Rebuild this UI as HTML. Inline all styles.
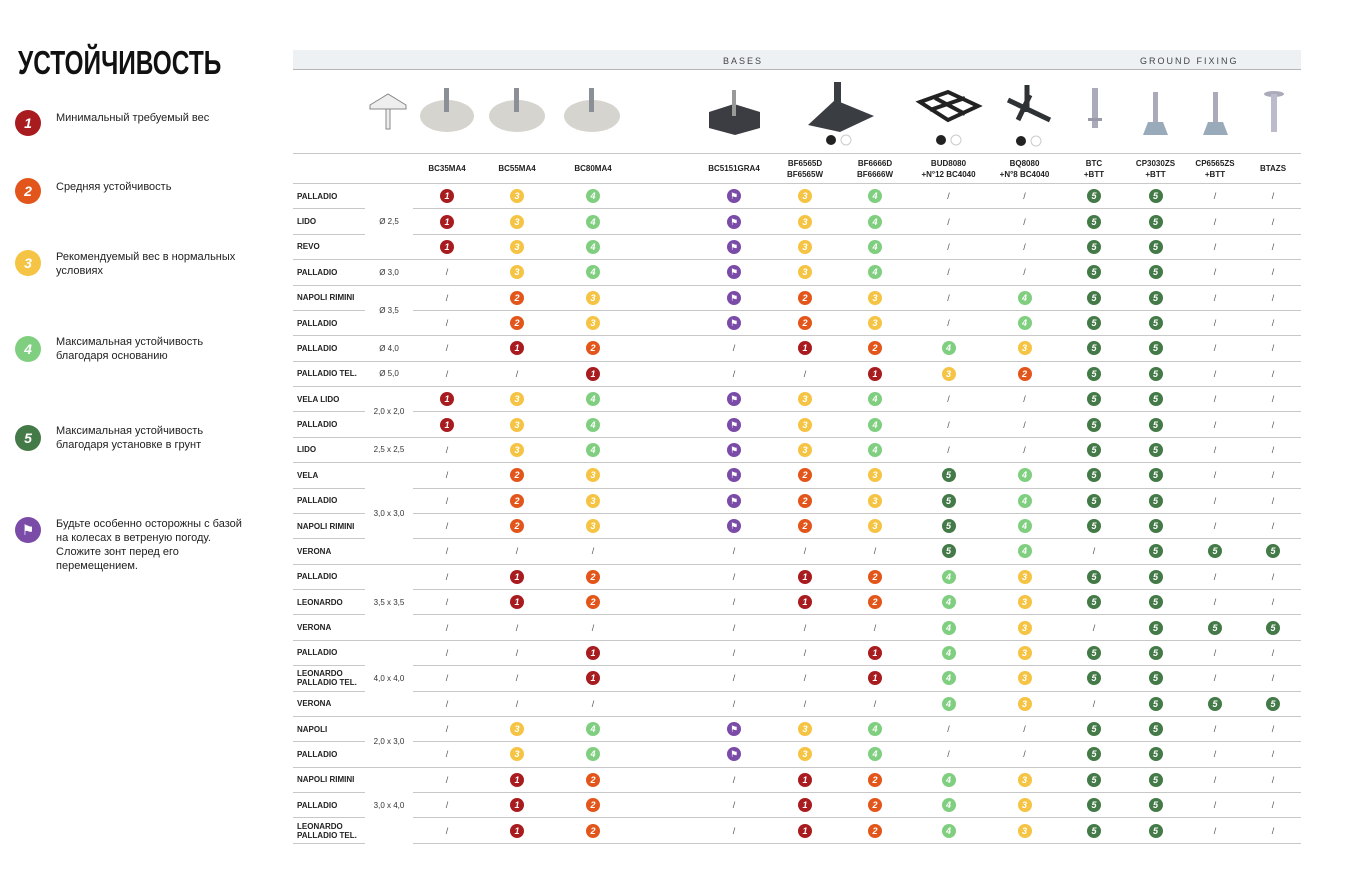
<!DOCTYPE html>
<html><head><meta charset="utf-8"><style>
*{margin:0;padding:0;box-sizing:border-box}
body{width:1350px;height:875px;background:#fff;position:relative;font-family:"Liberation Sans","DejaVu Sans",sans-serif;color:#111;overflow:hidden}
h1{position:absolute;left:18px;top:44px;font-size:33px;font-weight:bold;transform:scaleX(0.74);transform-origin:0 0;letter-spacing:0;white-space:nowrap}
.lg{position:absolute;left:15px;width:26px;height:26px;border-radius:50%;color:#fff;font-weight:bold;font-style:italic;font-size:14px;text-align:center;line-height:26px}
.lt{position:absolute;left:56px;font-size:11px;line-height:14px;color:#222;width:190px}
.band{position:absolute;left:293px;top:50px;width:1008px;height:20px;background:#eef1f4;border-bottom:1px solid #b5b5b5}
.band span{position:absolute;top:6px;font-size:9px;letter-spacing:2px;color:#444}
table{position:absolute;left:293px;top:153px;border-collapse:collapse;table-layout:fixed;width:1008px}
td{border-top:1px solid #c8c8c8;text-align:center;vertical-align:middle;height:25.38px;font-size:9px;color:#555;padding:0}
tr.h td{height:30px;font-size:8px;font-weight:bold;color:#222;line-height:11px}
td.n{text-align:left;padding-left:4px;font-size:8px;font-weight:bold;color:#222;line-height:9px}
td.s{font-size:8px;color:#333}
table tr:last-child td{border-bottom:1px solid #c8c8c8}
i{display:inline-block;width:14px;height:14px;border-radius:50%;color:#fff;font-weight:bold;font-size:9px;line-height:14px;vertical-align:middle}
.c1{background:#a81c1f}.c2{background:#e2561b}.c3{background:#f6c444}.c4{background:#80cf80}.c5{background:#437a47}.cw{background:#7b4ba8}
</style></head><body>
<h1>УСТОЙЧИВОСТЬ</h1>
<div class="lg c1" style="top:110px">1</div><div class="lt" style="top:111px">Минимальный требуемый вес</div>
<div class="lg c2" style="top:178px">2</div><div class="lt" style="top:180px">Средняя устойчивость</div>
<div class="lg c3" style="top:250px">3</div><div class="lt" style="top:250px">Рекомендуемый вес в нормальных условиях</div>
<div class="lg c4" style="top:336px">4</div><div class="lt" style="top:335px">Максимальная устойчивость благодаря основанию</div>
<div class="lg c5" style="top:425px">5</div><div class="lt" style="top:424px">Максимальная устойчивость благодаря установке в грунт</div>
<div class="lg cw" style="top:517px">&#9873;</div><div class="lt" style="top:517px">Будьте особенно осторожны с базой на колесах в ветреную погоду. Сложите зонт перед его перемещением.</div>
<div class="band"><span style="left:430px">BASES</span><span style="left:847px">GROUND FIXING</span></div>
<svg style="position:absolute;left:0;top:70px" width="1350" height="83">
<g fill="#eee" stroke="#888"><path d="M370 35 L388 24 L406 35 L406 39 L370 39Z"/><rect x="386" y="39" width="4" height="20"/></g>
<g><ellipse cx="447" cy="46" rx="27" ry="16" fill="#d6d4cf"/><rect x="444" y="18" width="5" height="24" fill="#8b9096"/>
<ellipse cx="517" cy="46" rx="28" ry="16" fill="#d6d4cf"/><rect x="514" y="18" width="5" height="24" fill="#8b9096"/>
<ellipse cx="592" cy="46" rx="28" ry="16" fill="#d6d4cf"/><rect x="589" y="18" width="5" height="24" fill="#8b9096"/></g>
<g><path d="M709 42 L734 34 L760 42 L760 58 L735 65 L709 58Z" fill="#3b3d42"/><rect x="732" y="20" width="4" height="26" fill="#999"/>
<path d="M808 55 L835 30 L874 46 L840 62Z" fill="#3a3d42"/><rect x="834" y="12" width="7" height="38" fill="#3a3d42"/>
<circle cx="831" cy="70" r="5" fill="#222"/><circle cx="846" cy="70" r="5" fill="#fff" stroke="#ccc"/>
<path d="M920 32 L948 22 L978 36 L948 50Z" fill="none" stroke="#222" stroke-width="4"/><path d="M930 40 L965 28 M935 28 L965 44" stroke="#222" stroke-width="4"/>
<circle cx="941" cy="70" r="5" fill="#222"/><circle cx="956" cy="70" r="5" fill="#fff" stroke="#ccc"/>
<path d="M1008 30 L1050 50 M1030 25 L1018 50 M1027 15 L1027 42" stroke="#2e3235" stroke-width="5"/>
<circle cx="1021" cy="71" r="5" fill="#222"/><circle cx="1036" cy="71" r="5" fill="#fff" stroke="#ccc"/>
<rect x="1092" y="18" width="6" height="40" fill="#aab"/><rect x="1088" y="48" width="14" height="3" fill="#99a"/>
<rect x="1153" y="22" width="5" height="30" fill="#aab"/><path d="M1143 65 L1148 52 L1163 52 L1168 65Z" fill="#9ab"/>
<rect x="1213" y="22" width="5" height="30" fill="#aab"/><path d="M1203 65 L1208 52 L1223 52 L1228 65Z" fill="#9ab"/>
<ellipse cx="1274" cy="24" rx="10" ry="3" fill="#aab"/><rect x="1271" y="24" width="6" height="38" fill="#bbc"/></g>
</svg>
<table>
<colgroup><col style="width:72px"><col style="width:48px"><col style="width:68px"><col style="width:72px"><col style="width:80px"><col style="width:65px"><col style="width:72px"><col style="width:70px"><col style="width:70px"><col style="width:77px"><col style="width:75px"><col style="width:64px"><col style="width:59px"><col style="width:60px"><col style="width:56px"></colgroup>
<tr class="h"><td></td><td></td><td>BC35MA4</td><td>BC55MA4</td><td>BC80MA4</td><td></td><td>BC5151GRA4</td><td>BF6565D<br>BF6565W</td><td>BF6666D<br>BF6666W</td><td>BUD8080<br>+N°12 BC4040</td><td>BQ8080<br>+N°8 BC4040</td><td>BTC<br>+BTT</td><td>CP3030ZS<br>+BTT</td><td>CP6565ZS<br>+BTT</td><td>BTAZS</td></tr>
<tr><td class="n">PALLADIO</td><td class="s" rowspan="3">Ø 2,5</td><td><i class="c1">1</i></td><td><i class="c3">3</i></td><td><i class="c4">4</i></td><td></td><td><i class="cw">&#9873;</i></td><td><i class="c3">3</i></td><td><i class="c4">4</i></td><td>/</td><td>/</td><td><i class="c5">5</i></td><td><i class="c5">5</i></td><td>/</td><td>/</td></tr>
<tr><td class="n">LIDO</td><td><i class="c1">1</i></td><td><i class="c3">3</i></td><td><i class="c4">4</i></td><td></td><td><i class="cw">&#9873;</i></td><td><i class="c3">3</i></td><td><i class="c4">4</i></td><td>/</td><td>/</td><td><i class="c5">5</i></td><td><i class="c5">5</i></td><td>/</td><td>/</td></tr>
<tr><td class="n">REVO</td><td><i class="c1">1</i></td><td><i class="c3">3</i></td><td><i class="c4">4</i></td><td></td><td><i class="cw">&#9873;</i></td><td><i class="c3">3</i></td><td><i class="c4">4</i></td><td>/</td><td>/</td><td><i class="c5">5</i></td><td><i class="c5">5</i></td><td>/</td><td>/</td></tr>
<tr><td class="n">PALLADIO</td><td class="s">Ø 3,0</td><td>/</td><td><i class="c3">3</i></td><td><i class="c4">4</i></td><td></td><td><i class="cw">&#9873;</i></td><td><i class="c3">3</i></td><td><i class="c4">4</i></td><td>/</td><td>/</td><td><i class="c5">5</i></td><td><i class="c5">5</i></td><td>/</td><td>/</td></tr>
<tr><td class="n">NAPOLI RIMINI</td><td class="s" rowspan="2">Ø 3,5</td><td>/</td><td><i class="c2">2</i></td><td><i class="c3">3</i></td><td></td><td><i class="cw">&#9873;</i></td><td><i class="c2">2</i></td><td><i class="c3">3</i></td><td>/</td><td><i class="c4">4</i></td><td><i class="c5">5</i></td><td><i class="c5">5</i></td><td>/</td><td>/</td></tr>
<tr><td class="n">PALLADIO</td><td>/</td><td><i class="c2">2</i></td><td><i class="c3">3</i></td><td></td><td><i class="cw">&#9873;</i></td><td><i class="c2">2</i></td><td><i class="c3">3</i></td><td>/</td><td><i class="c4">4</i></td><td><i class="c5">5</i></td><td><i class="c5">5</i></td><td>/</td><td>/</td></tr>
<tr><td class="n">PALLADIO</td><td class="s">Ø 4,0</td><td>/</td><td><i class="c1">1</i></td><td><i class="c2">2</i></td><td></td><td>/</td><td><i class="c1">1</i></td><td><i class="c2">2</i></td><td><i class="c4">4</i></td><td><i class="c3">3</i></td><td><i class="c5">5</i></td><td><i class="c5">5</i></td><td>/</td><td>/</td></tr>
<tr><td class="n">PALLADIO TEL.</td><td class="s">Ø 5,0</td><td>/</td><td>/</td><td><i class="c1">1</i></td><td></td><td>/</td><td>/</td><td><i class="c1">1</i></td><td><i class="c3">3</i></td><td><i class="c2">2</i></td><td><i class="c5">5</i></td><td><i class="c5">5</i></td><td>/</td><td>/</td></tr>
<tr><td class="n">VELA LIDO</td><td class="s" rowspan="2">2,0 x 2,0</td><td><i class="c1">1</i></td><td><i class="c3">3</i></td><td><i class="c4">4</i></td><td></td><td><i class="cw">&#9873;</i></td><td><i class="c3">3</i></td><td><i class="c4">4</i></td><td>/</td><td>/</td><td><i class="c5">5</i></td><td><i class="c5">5</i></td><td>/</td><td>/</td></tr>
<tr><td class="n">PALLADIO</td><td><i class="c1">1</i></td><td><i class="c3">3</i></td><td><i class="c4">4</i></td><td></td><td><i class="cw">&#9873;</i></td><td><i class="c3">3</i></td><td><i class="c4">4</i></td><td>/</td><td>/</td><td><i class="c5">5</i></td><td><i class="c5">5</i></td><td>/</td><td>/</td></tr>
<tr><td class="n">LIDO</td><td class="s">2,5 x 2,5</td><td>/</td><td><i class="c3">3</i></td><td><i class="c4">4</i></td><td></td><td><i class="cw">&#9873;</i></td><td><i class="c3">3</i></td><td><i class="c4">4</i></td><td>/</td><td>/</td><td><i class="c5">5</i></td><td><i class="c5">5</i></td><td>/</td><td>/</td></tr>
<tr><td class="n">VELA</td><td class="s" rowspan="4">3,0 x 3,0</td><td>/</td><td><i class="c2">2</i></td><td><i class="c3">3</i></td><td></td><td><i class="cw">&#9873;</i></td><td><i class="c2">2</i></td><td><i class="c3">3</i></td><td><i class="c5">5</i></td><td><i class="c4">4</i></td><td><i class="c5">5</i></td><td><i class="c5">5</i></td><td>/</td><td>/</td></tr>
<tr><td class="n">PALLADIO</td><td>/</td><td><i class="c2">2</i></td><td><i class="c3">3</i></td><td></td><td><i class="cw">&#9873;</i></td><td><i class="c2">2</i></td><td><i class="c3">3</i></td><td><i class="c5">5</i></td><td><i class="c4">4</i></td><td><i class="c5">5</i></td><td><i class="c5">5</i></td><td>/</td><td>/</td></tr>
<tr><td class="n">NAPOLI RIMINI</td><td>/</td><td><i class="c2">2</i></td><td><i class="c3">3</i></td><td></td><td><i class="cw">&#9873;</i></td><td><i class="c2">2</i></td><td><i class="c3">3</i></td><td><i class="c5">5</i></td><td><i class="c4">4</i></td><td><i class="c5">5</i></td><td><i class="c5">5</i></td><td>/</td><td>/</td></tr>
<tr><td class="n">VERONA</td><td>/</td><td>/</td><td>/</td><td></td><td>/</td><td>/</td><td>/</td><td><i class="c5">5</i></td><td><i class="c4">4</i></td><td>/</td><td><i class="c5">5</i></td><td><i class="c5">5</i></td><td><i class="c5">5</i></td></tr>
<tr><td class="n">PALLADIO</td><td class="s" rowspan="3">3,5 x 3,5</td><td>/</td><td><i class="c1">1</i></td><td><i class="c2">2</i></td><td></td><td>/</td><td><i class="c1">1</i></td><td><i class="c2">2</i></td><td><i class="c4">4</i></td><td><i class="c3">3</i></td><td><i class="c5">5</i></td><td><i class="c5">5</i></td><td>/</td><td>/</td></tr>
<tr><td class="n">LEONARDO</td><td>/</td><td><i class="c1">1</i></td><td><i class="c2">2</i></td><td></td><td>/</td><td><i class="c1">1</i></td><td><i class="c2">2</i></td><td><i class="c4">4</i></td><td><i class="c3">3</i></td><td><i class="c5">5</i></td><td><i class="c5">5</i></td><td>/</td><td>/</td></tr>
<tr><td class="n">VERONA</td><td>/</td><td>/</td><td>/</td><td></td><td>/</td><td>/</td><td>/</td><td><i class="c4">4</i></td><td><i class="c3">3</i></td><td>/</td><td><i class="c5">5</i></td><td><i class="c5">5</i></td><td><i class="c5">5</i></td></tr>
<tr><td class="n">PALLADIO</td><td class="s" rowspan="3">4,0 x 4,0</td><td>/</td><td>/</td><td><i class="c1">1</i></td><td></td><td>/</td><td>/</td><td><i class="c1">1</i></td><td><i class="c4">4</i></td><td><i class="c3">3</i></td><td><i class="c5">5</i></td><td><i class="c5">5</i></td><td>/</td><td>/</td></tr>
<tr><td class="n">LEONARDO<br>PALLADIO TEL.</td><td>/</td><td>/</td><td><i class="c1">1</i></td><td></td><td>/</td><td>/</td><td><i class="c1">1</i></td><td><i class="c4">4</i></td><td><i class="c3">3</i></td><td><i class="c5">5</i></td><td><i class="c5">5</i></td><td>/</td><td>/</td></tr>
<tr><td class="n">VERONA</td><td>/</td><td>/</td><td>/</td><td></td><td>/</td><td>/</td><td>/</td><td><i class="c4">4</i></td><td><i class="c3">3</i></td><td>/</td><td><i class="c5">5</i></td><td><i class="c5">5</i></td><td><i class="c5">5</i></td></tr>
<tr><td class="n">NAPOLI</td><td class="s" rowspan="2">2,0 x 3,0</td><td>/</td><td><i class="c3">3</i></td><td><i class="c4">4</i></td><td></td><td><i class="cw">&#9873;</i></td><td><i class="c3">3</i></td><td><i class="c4">4</i></td><td>/</td><td>/</td><td><i class="c5">5</i></td><td><i class="c5">5</i></td><td>/</td><td>/</td></tr>
<tr><td class="n">PALLADIO</td><td>/</td><td><i class="c3">3</i></td><td><i class="c4">4</i></td><td></td><td><i class="cw">&#9873;</i></td><td><i class="c3">3</i></td><td><i class="c4">4</i></td><td>/</td><td>/</td><td><i class="c5">5</i></td><td><i class="c5">5</i></td><td>/</td><td>/</td></tr>
<tr><td class="n">NAPOLI RIMINI</td><td class="s" rowspan="3">3,0 x 4,0</td><td>/</td><td><i class="c1">1</i></td><td><i class="c2">2</i></td><td></td><td>/</td><td><i class="c1">1</i></td><td><i class="c2">2</i></td><td><i class="c4">4</i></td><td><i class="c3">3</i></td><td><i class="c5">5</i></td><td><i class="c5">5</i></td><td>/</td><td>/</td></tr>
<tr><td class="n">PALLADIO</td><td>/</td><td><i class="c1">1</i></td><td><i class="c2">2</i></td><td></td><td>/</td><td><i class="c1">1</i></td><td><i class="c2">2</i></td><td><i class="c4">4</i></td><td><i class="c3">3</i></td><td><i class="c5">5</i></td><td><i class="c5">5</i></td><td>/</td><td>/</td></tr>
<tr><td class="n">LEONARDO<br>PALLADIO TEL.</td><td>/</td><td><i class="c1">1</i></td><td><i class="c2">2</i></td><td></td><td>/</td><td><i class="c1">1</i></td><td><i class="c2">2</i></td><td><i class="c4">4</i></td><td><i class="c3">3</i></td><td><i class="c5">5</i></td><td><i class="c5">5</i></td><td>/</td><td>/</td></tr>
</table>
</body></html>
